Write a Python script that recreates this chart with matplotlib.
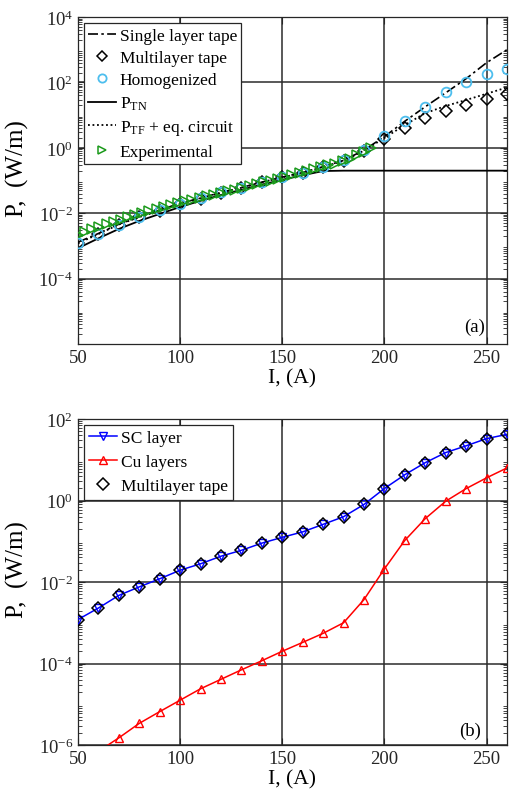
import numpy as np
import matplotlib
matplotlib.use("Agg")
import matplotlib.pyplot as plt
from matplotlib.ticker import LogLocator, NullFormatter, FixedLocator

plt.rcParams['font.family'] = ['Liberation Serif', 'DejaVu Serif']
plt.rcParams['mathtext.fontset'] = 'custom'
plt.rcParams['mathtext.rm'] = 'Liberation Serif'
plt.rcParams['mathtext.it'] = 'Liberation Serif:italic'
plt.rcParams['axes.unicode_minus'] = False

# ---- data, panel (a) ----
current = [50, 60, 70, 80, 90, 100, 110, 120, 130, 140, 150, 160, 170, 180,
           190, 200, 210, 220, 230, 240, 250, 260]
single_layer = [1.3e-3, 2.4e-3, 4.6e-3, 7.8e-3, 0.0125, 0.020, 0.029, 0.043, 0.061, 0.089,
                0.127, 0.175, 0.265, 0.41, 0.85, 2.2, 6.5, 18, 48, 130, 400, 1000]
multilayer = [1.2e-3, 2.3e-3, 4.5e-3, 7.6e-3, 0.012, 0.0195, 0.028, 0.042, 0.060, 0.088,
              0.125, 0.17, 0.26, 0.40, 0.80, 1.9, 4.0, 8.2, 13.5, 20, 31, 45]
homogenized = [1.25e-3, 2.35e-3, 4.5e-3, 7.7e-3, 0.0122, 0.0198, 0.0285, 0.043, 0.061, 0.089,
               0.127, 0.173, 0.265, 0.41, 0.85, 2.3, 6.8, 18, 50, 100, 175, 250]
p_tn = [8.5e-4, 1.7e-3, 3.3e-3, 5.8e-3, 9.5e-3, 0.0155, 0.024, 0.036, 0.052, 0.075,
        0.105, 0.145, 0.195, 0.2, 0.2, 0.2, 0.2, 0.2, 0.2, 0.2, 0.2, 0.2]
p_tf = [1.2e-3, 2.3e-3, 4.5e-3, 7.6e-3, 0.012, 0.0195, 0.028, 0.042, 0.060, 0.088,
        0.125, 0.17, 0.26, 0.40, 0.82, 2.0, 5.0, 11.5, 19, 29, 45, 70]

exp_current = [50, 53.5, 57, 60.5, 64, 67.5, 71, 74.5, 78, 81.5, 85, 88.5, 92, 95.5,
               99, 102.5, 106, 109.5, 113, 116.5, 120, 123.5, 127, 130.5, 134, 137.5,
               141, 144.5, 148, 151.5, 155, 158.5, 162, 165.5, 169, 172.5, 176, 179.5,
               183, 186.5, 190, 193.5]
exp_power = [2.1e-3, 2.6e-3, 3.2e-3, 3.8e-3, 4.6e-3, 5.4e-3, 6.3e-3, 7.4e-3, 8.7e-3, 0.010,
             0.0115, 0.0132, 0.0151, 0.0174, 0.020, 0.023, 0.026, 0.0295, 0.033, 0.037,
             0.042, 0.047, 0.052, 0.059, 0.066, 0.076, 0.087, 0.10, 0.115, 0.13,
             0.148, 0.166, 0.19, 0.22, 0.25, 0.29, 0.33, 0.39, 0.47, 0.59, 0.76, 1.0]

# ---- data, panel (b) ----
sc_layer = [1.2e-3, 2.3e-3, 4.7e-3, 7.6e-3, 0.012, 0.0195, 0.028, 0.043, 0.060, 0.09,
            0.125, 0.17, 0.26, 0.40, 0.80, 1.97, 4.3, 8.5, 15, 22, 33, 42]
cu_layers = [3e-7, 7e-7, 1.5e-6, 3.4e-6, 6.6e-6, 1.26e-5, 2.4e-5, 4.1e-5, 7e-5, 1.17e-4,
             2e-4, 3.3e-4, 5.5e-4, 1e-3, 3.7e-3, 0.021, 0.105, 0.36, 0.96, 1.96, 3.6, 6.3]
multilayer_b = [1.2e-3, 2.3e-3, 4.7e-3, 7.6e-3, 0.012, 0.0195, 0.028, 0.043, 0.060, 0.09,
                0.125, 0.17, 0.26, 0.40, 0.80, 1.97, 4.3, 8.5, 15, 22, 33, 42]

x_ticks = [50, 100, 150, 200, 250]
tick_fs = 13.5
label_fs = 15.5
legend_fs = 12.5
grid_col = '#2b2b2b'


def style_axes(ax, y_ticks, ylim):
    ax.set_yscale('log')
    ax.set_xlim(50, 260)
    ax.set_ylim(*ylim)
    ax.xaxis.set_major_locator(FixedLocator(x_ticks))
    ax.yaxis.set_major_locator(FixedLocator(y_ticks))
    ax.yaxis.set_minor_locator(LogLocator(base=10, subs=np.arange(2, 10), numticks=30))
    ax.yaxis.set_minor_formatter(NullFormatter())
    ax.tick_params(which='both', direction='in', top=True, right=True,
                   labelsize=tick_fs, colors='#262626')
    ax.tick_params(which='major', length=5, width=0.8)
    ax.tick_params(which='minor', length=3, width=0.6)
    ax.grid(True, which='major', color=grid_col, linewidth=1.1)
    for sp in ax.spines.values():
        sp.set_color('#262626')
        sp.set_linewidth(0.9)
    ax.set_xlabel('I, (A)', fontsize=label_fs, labelpad=2)
    ax.set_ylabel('P,  (W/m)', fontsize=18)
    ax.yaxis.set_label_coords(-0.115, 0.54)


fig = plt.figure(figsize=(5.09, 8.04), dpi=100)
ax1 = fig.add_axes([0.1532, 0.5709, 0.8428, 0.4067])
ax2 = fig.add_axes([0.1532, 0.0721, 0.8428, 0.4055])

# panel (a)
ax1.plot(current, single_layer, color='black', linewidth=1.2,
         linestyle=(0, (6, 2, 1.5, 2)), label='Single layer tape', zorder=3)
ax1.plot(current, multilayer, linestyle='none', marker='D', markersize=6.5,
         markerfacecolor='none', markeredgecolor='black', markeredgewidth=1.1,
         label='Multilayer tape', zorder=4)
ax1.plot(current, homogenized, linestyle='none', marker='o', markersize=7,
         markerfacecolor='none', markeredgecolor='#4DBEEE', markeredgewidth=1.3,
         label='Homogenized', zorder=4)
ax1.plot(current, p_tn, color='black', linewidth=1.3, label=r'P$_{\mathrm{TN}}$', zorder=3)
ax1.plot(current, p_tf, color='black', linewidth=1.3, linestyle=(0, (1, 1.5)),
         label=r'P$_{\mathrm{TF}}$ + eq. circuit', zorder=3)
ax1.plot(exp_current, exp_power, linestyle='none', marker='>', markersize=6.5,
         markerfacecolor='none', markeredgecolor='#1a9a1a', markeredgewidth=1.1,
         label='Experimental', zorder=5)
style_axes(ax1, [1e-4, 1e-2, 1e0, 1e2, 1e4], (1e-6, 1e4))
leg1 = ax1.legend(loc='upper left', fontsize=legend_fs, frameon=True, fancybox=False,
                  edgecolor='#262626', framealpha=1, borderaxespad=0.35,
                  handlelength=1.6, handletextpad=0.2, labelspacing=0.36,
                  borderpad=0.25, markerscale=0.85)
leg1.get_frame().set_linewidth(0.9)
ax1.text(0.949, 0.028, '(a)', transform=ax1.transAxes, ha='right', va='bottom',
         fontsize=tick_fs)

# panel (b)
ax2.plot(current, sc_layer, color='#0000ff', linewidth=1.1, marker='v', markersize=6,
         markerfacecolor='none', markeredgecolor='#0000ff', markeredgewidth=1.0,
         label='SC layer', zorder=3)
ax2.plot(current, cu_layers, color='#ff0000', linewidth=1.1, marker='^', markersize=6,
         markerfacecolor='none', markeredgecolor='#ff0000', markeredgewidth=1.0,
         label='Cu layers', zorder=3)
ax2.plot(current, multilayer_b, linestyle='none', marker='D', markersize=6,
         markerfacecolor='none', markeredgecolor='black', markeredgewidth=1.1,
         label='Multilayer tape', zorder=4)
style_axes(ax2, [1e-6, 1e-4, 1e-2, 1e0, 1e2], (1e-6, 1e2))
leg2 = ax2.legend(loc='upper left', fontsize=legend_fs, frameon=True, fancybox=False,
                  edgecolor='#262626', framealpha=1, borderaxespad=0.35,
                  handlelength=1.6, handletextpad=0.2, labelspacing=0.45,
                  borderpad=0.3)
leg2.get_frame().set_linewidth(0.9)
ax2.text(0.94, 0.02, '(b)', transform=ax2.transAxes, ha='right', va='bottom',
         fontsize=tick_fs)

fig.savefig('out.png', dpi=100)
